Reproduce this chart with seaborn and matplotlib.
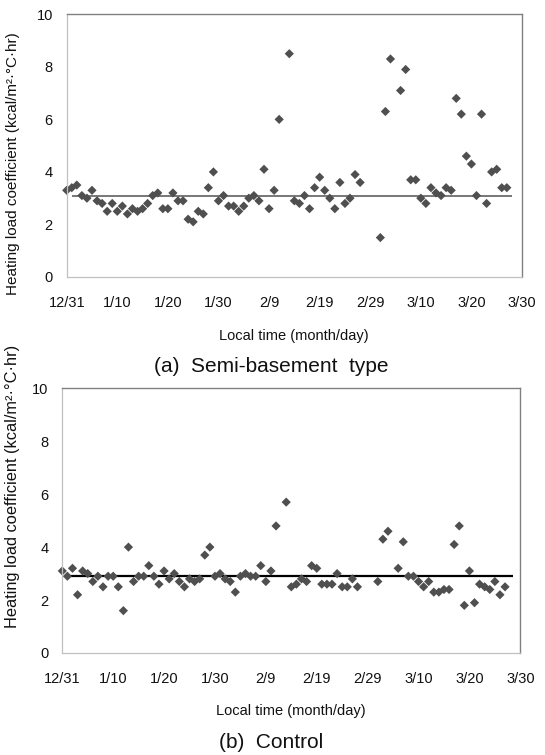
import matplotlib
matplotlib.use("Agg")
import numpy as np
import pandas as pd
import matplotlib.pyplot as plt
import seaborn as sns

# x = days after 12/31
semi_days = list(range(0, 43)) + list(range(44, 59)) + [62, 63, 64] + list(range(66, 88))
semi_vals = [3.3, 3.4, 3.5, 3.1, 3.0, 3.3, 2.9, 2.8, 2.5, 2.8,
             2.5, 2.7, 2.4, 2.6, 2.5, 2.6, 2.8, 3.1, 3.2, 2.6,
             2.6, 3.2, 2.9, 2.9, 2.2, 2.1, 2.5, 2.4, 3.4, 4.0,
             2.9, 3.1, 2.7, 2.7, 2.5, 2.7, 3.0, 3.1, 2.9, 4.1,
             2.6, 3.3, 6.0,
             8.5, 2.9, 2.8, 3.1, 2.6, 3.4, 3.8, 3.3, 3.0, 2.6, 3.6, 2.8, 3.0, 3.9, 3.6,
             1.5, 6.3, 8.3,
             7.1, 7.9, 3.7, 3.7, 3.0, 2.8, 3.4, 3.2, 3.1, 3.4, 3.3, 6.8, 6.2, 4.6, 4.3,
             3.1, 6.2, 2.8, 4.0, 4.1, 3.4, 3.4]

ctrl_days = list(range(0, 43)) + list(range(44, 59)) + [62, 63, 64] + list(range(66, 88))
ctrl_vals = [3.1, 2.9, 3.2, 2.2, 3.1, 3.0, 2.7, 2.9, 2.5, 2.9,
             2.9, 2.5, 1.6, 4.0, 2.7, 2.9, 2.9, 3.3, 2.9, 2.6,
             3.1, 2.8, 3.0, 2.7, 2.5, 2.8, 2.7, 2.8, 3.7, 4.0,
             2.9, 3.0, 2.8, 2.7, 2.3, 2.9, 3.0, 2.9, 2.9, 3.3,
             2.7, 3.1, 4.8,
             5.7, 2.5, 2.6, 2.8, 2.7, 3.3, 3.2, 2.6, 2.6, 2.6, 3.0, 2.5, 2.5, 2.8, 2.5,
             2.7, 4.3, 4.6,
             3.2, 4.2, 2.9, 2.9, 2.7, 2.5, 2.7, 2.3, 2.3, 2.4, 2.4, 4.1, 4.8, 1.8,
             3.1, 1.9, 2.6, 2.5, 2.4, 2.7, 2.2, 2.5]

semi_mean = 3.1
ctrl_mean = 2.9

tick_days = [0, 10, 20, 30, 40, 50, 60, 70, 80, 90]
tick_labels = ["12/31", "1/10", "1/20", "1/30", "2/9", "2/19", "2/29", "3/10", "3/20", "3/30"]

sns.set_style("white")
plt.rcParams["font.family"] = ["Liberation Sans", "DejaVu Sans"]

W, H = 545, 755
fig = plt.figure(figsize=(W / 100, H / 100), dpi=100)


def px_box(left, top, right, bottom):
    return [left / W, 1 - bottom / H, (right - left) / W, (bottom - top) / H]


panels = [
    dict(days=semi_days, vals=semi_vals, mean=semi_mean, span=(1, 88),
         box=px_box(66.7, 14.3, 522, 277), line_color="#606060", lw=1.2,
         ylab_xy=(-0.103, 0.43), ylab_fs=11,
         xlab_xy=(294, 336), cap_xy=(271, 367), caption="(a)  Semi-basement  type"),
    dict(days=ctrl_days, vals=ctrl_vals, mean=ctrl_mean, span=(0.5, 88.5),
         box=px_box(62.3, 388.3, 520.3, 653), line_color="black", lw=1.6,
         ylab_xy=(-0.092, 0.63), ylab_fs=11.8,
         xlab_xy=(291, 711), cap_xy=(271, 742), caption="(b)  Control"),
]

for p in panels:
    ax = fig.add_axes(p["box"])
    df = pd.DataFrame({"day": p["days"], "value": p["vals"]})
    ax.hlines(p["mean"], p["span"][0], p["span"][1], color=p["line_color"], lw=p["lw"], zorder=1)
    sns.scatterplot(data=df, x="day", y="value", marker="D", s=22, color="#4f4f4f",
                    edgecolor="none", ax=ax, zorder=2, clip_on=False)
    ax.set_xlim(0, 90)
    ax.set_ylim(0, 10)
    ax.set_xticks(tick_days)
    ax.set_xticklabels(tick_labels)
    ax.set_yticks([0, 2, 4, 6, 8, 10])
    ax.tick_params(axis="x", direction="out", length=4.5, width=0.8, color="#c0c0c0",
                   pad=9, labelsize=10.5, labelcolor="#111111")
    ax.tick_params(axis="y", direction="out", length=3.5, width=0.8, color="#c0c0c0",
                   pad=6.5, labelsize=10.5, labelcolor="#111111")
    for side in ["left", "bottom"]:
        ax.spines[side].set_color("#c0c0c0")
        ax.spines[side].set_linewidth(0.9)
    for side in ["top", "right"]:
        ax.spines[side].set_color("#808080")
        ax.spines[side].set_linewidth(1.0)
    ax.set_xlabel("")
    ax.set_ylabel("Heating load coefficient (kcal/m²·°C·hr)", fontsize=p["ylab_fs"], color="#111111")
    ax.yaxis.set_label_coords(*p["ylab_xy"])
    fig.text(p["xlab_xy"][0] / W, 1 - p["xlab_xy"][1] / H, "Local time (month/day)",
             ha="center", va="center", fontsize=10.5, color="#111111")
    fig.text(p["cap_xy"][0] / W, 1 - p["cap_xy"][1] / H, p["caption"],
             ha="center", va="center", fontsize=15, color="#111111")

fig.savefig("out.png", dpi=100)
